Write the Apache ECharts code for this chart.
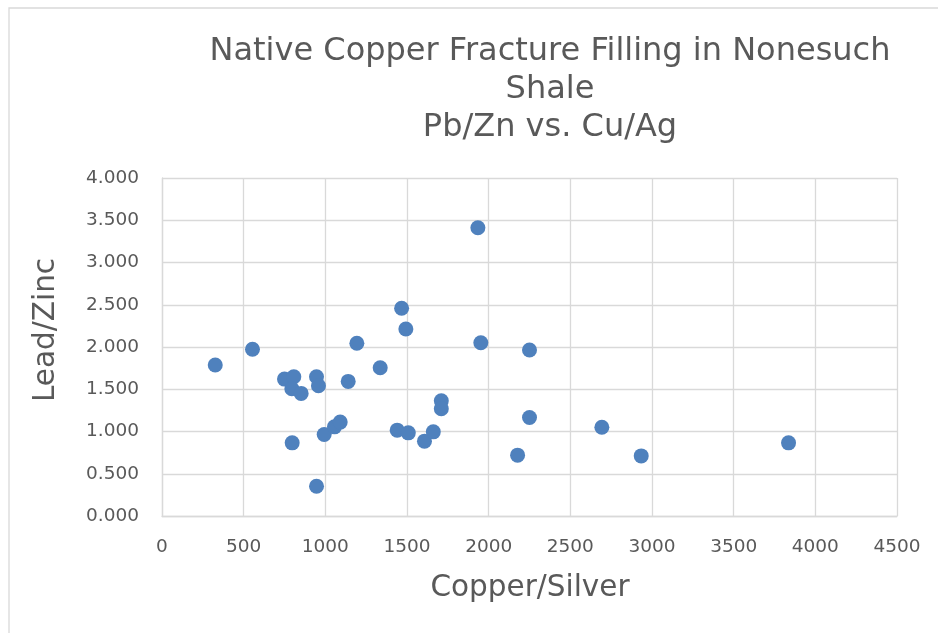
<!DOCTYPE html>
<html>
<head>
<meta charset="utf-8">
<script src="https://cdn.jsdelivr.net/npm/echarts@6/dist/echarts.min.js"></script>
<style>
html,body{margin:0;padding:0;background:#fff;}
#chart{width:938px;height:633px;}
</style>
</head>
<body>
<div id="chart"></div>
<script>
// Data
var copperSilver = [326, 554, 750, 807, 795, 852, 797, 946, 958, 946, 993, 1056, 1091, 1140, 1193, 1336, 1440, 1508, 1467, 1493, 1607, 1661, 1710, 1710, 1934, 1952, 2177, 2250, 2250, 2693, 2934, 3836];
var leadZinc = [1.787, 1.973, 1.620, 1.648, 1.506, 1.451, 0.866, 1.648, 1.541, 0.352, 0.965, 1.055, 1.111, 1.593, 2.044, 1.755, 1.016, 0.984, 2.459, 2.213, 0.886, 0.996, 1.363, 1.269, 3.411, 2.051, 0.720, 1.964, 1.166, 1.051, 0.711, 0.866];
var titleLines = ['Native Copper Fracture Filling in Nonesuch', 'Shale', 'Pb/Zn vs. Cu/Ag'];
var xAxisTitle = 'Copper/Silver';
var yAxisTitle = 'Lead/Zinc';

var points = copperSilver.map(function (x, i) { return [x, leadZinc[i]]; });
var FONT = 'DejaVu Sans';
var TXT = '#595959';
var GRID = '#d9d9d9';

var chart = echarts.init(document.getElementById('chart'), null, {renderer: 'canvas'});
chart.setOption({
  backgroundColor: '#ffffff',
  animation: false,
  grid: {left: 162, right: 41, top: 178, bottom: 117, containLabel: false},
  xAxis: {
    type: 'value', min: 0, max: 4500, interval: 500,
    axisLine: {show: true, lineStyle: {color: GRID, width: 1.3}},
    axisTick: {show: false},
    splitLine: {show: true, lineStyle: {color: GRID, width: 1.3}},
    axisLabel: {color: TXT, fontFamily: FONT, fontSize: 18.5, margin: 22,
      formatter: function (v) { return String(v); }}
  },
  yAxis: {
    type: 'value', min: 0, max: 4, interval: 0.5,
    axisLine: {show: true, lineStyle: {color: GRID, width: 1.3}},
    axisTick: {show: false},
    splitLine: {show: true, lineStyle: {color: GRID, width: 1.3}},
    axisLabel: {color: TXT, fontFamily: FONT, fontSize: 18.5, margin: 23,
      formatter: function (v) { return v.toFixed(3); }}
  },
  series: [{
    type: 'scatter',
    data: points,
    symbol: 'circle',
    symbolSize: 15,
    itemStyle: {color: '#4F81BD', opacity: 1}
  }],
  graphic: [
    {type: 'rect', shape: {x: 9, y: 8, width: 1000, height: 700}, style: {fill: 'none', stroke: GRID, lineWidth: 1.3}, silent: true, z: -1},
    {type: 'text', x: 550, y: 52, style: {text: titleLines[0], fill: TXT, font: '32px "DejaVu Sans"', textAlign: 'center', textVerticalAlign: 'middle'}},
    {type: 'text', x: 550, y: 90, style: {text: titleLines[1], fill: TXT, font: '32px "DejaVu Sans"', textAlign: 'center', textVerticalAlign: 'middle'}},
    {type: 'text', x: 550, y: 128, style: {text: titleLines[2], fill: TXT, font: '32px "DejaVu Sans"', textAlign: 'center', textVerticalAlign: 'middle'}},
    {type: 'text', x: 530, y: 588, style: {text: xAxisTitle, fill: TXT, font: '29.5px "DejaVu Sans"', textAlign: 'center', textVerticalAlign: 'middle'}},
    {type: 'text', x: 46, y: 330, rotation: Math.PI / 2, style: {text: yAxisTitle, fill: TXT, font: '29.5px "DejaVu Sans"', textAlign: 'center', textVerticalAlign: 'middle'}}
  ]
});
</script>
</body>
</html>
